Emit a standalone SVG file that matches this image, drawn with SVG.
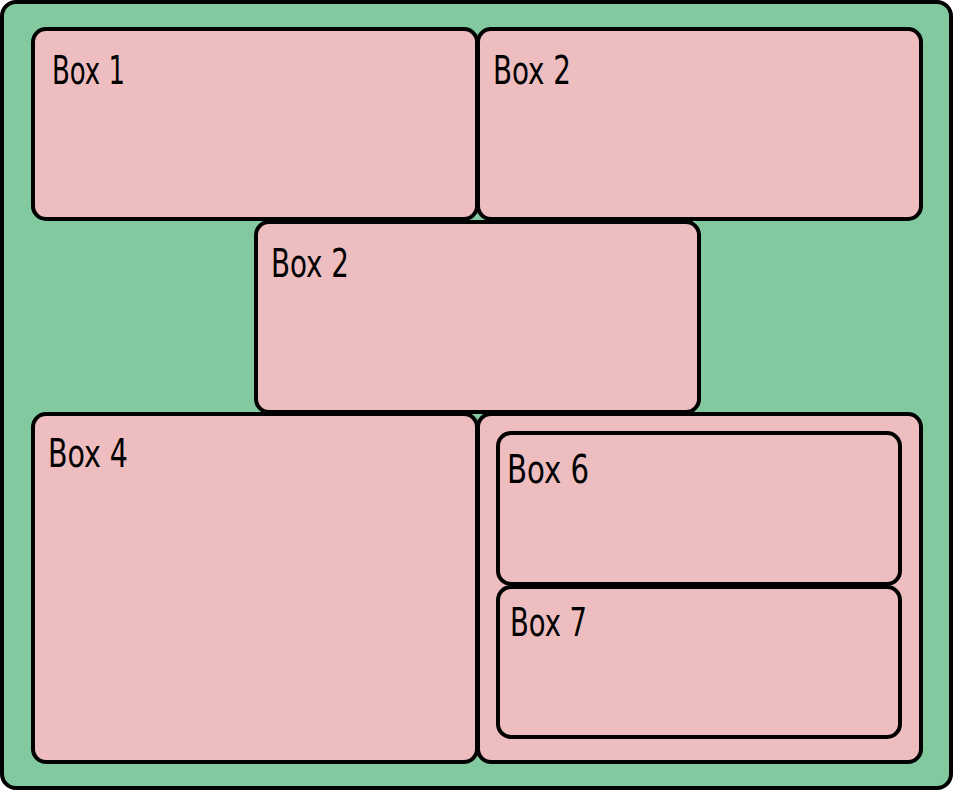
<svg xmlns="http://www.w3.org/2000/svg" width="955" height="793" viewBox="0 0 955 793">
<style>
.box{fill:#EDBDBF;stroke:#000;stroke-width:4}
.outer{fill:#82C9A0;stroke:#000;stroke-width:4}
.lbl{font-family:"DejaVu Sans Condensed","Liberation Sans",sans-serif;font-size:39px;fill:#000}
</style>
<g id="outer"><rect class="outer" x="2" y="2" width="949" height="786" rx="14"/></g>
<g id="box1"><rect class="box" x="33" y="29" width="444" height="190" rx="13"/><text class="lbl" x="52" y="84" textLength="73" lengthAdjust="spacingAndGlyphs">Box 1</text></g>
<g id="box2a"><rect class="box" x="478" y="29" width="443" height="190" rx="13"/><text class="lbl" x="493" y="84" textLength="78" lengthAdjust="spacingAndGlyphs">Box 2</text></g>
<g id="box2b"><rect class="box" x="256" y="222" width="443" height="190" rx="13"/><text class="lbl" x="271" y="277" textLength="78" lengthAdjust="spacingAndGlyphs">Box 2</text></g>
<g id="box4"><rect class="box" x="33" y="414" width="444" height="348" rx="13"/><text class="lbl" x="48" y="467" textLength="80" lengthAdjust="spacingAndGlyphs">Box 4</text></g>
<g id="box5"><rect class="box" x="478" y="414" width="443" height="348" rx="13"/></g>
<g id="box6"><rect class="box" x="498" y="433" width="402" height="151" rx="13"/><text class="lbl" x="507" y="483" textLength="82" lengthAdjust="spacingAndGlyphs">Box 6</text></g>
<g id="box7"><rect class="box" x="498" y="587" width="402" height="150" rx="13"/><text class="lbl" x="510" y="636" textLength="77" lengthAdjust="spacingAndGlyphs">Box 7</text></g>
<g id="connectors"></g>
</svg>
